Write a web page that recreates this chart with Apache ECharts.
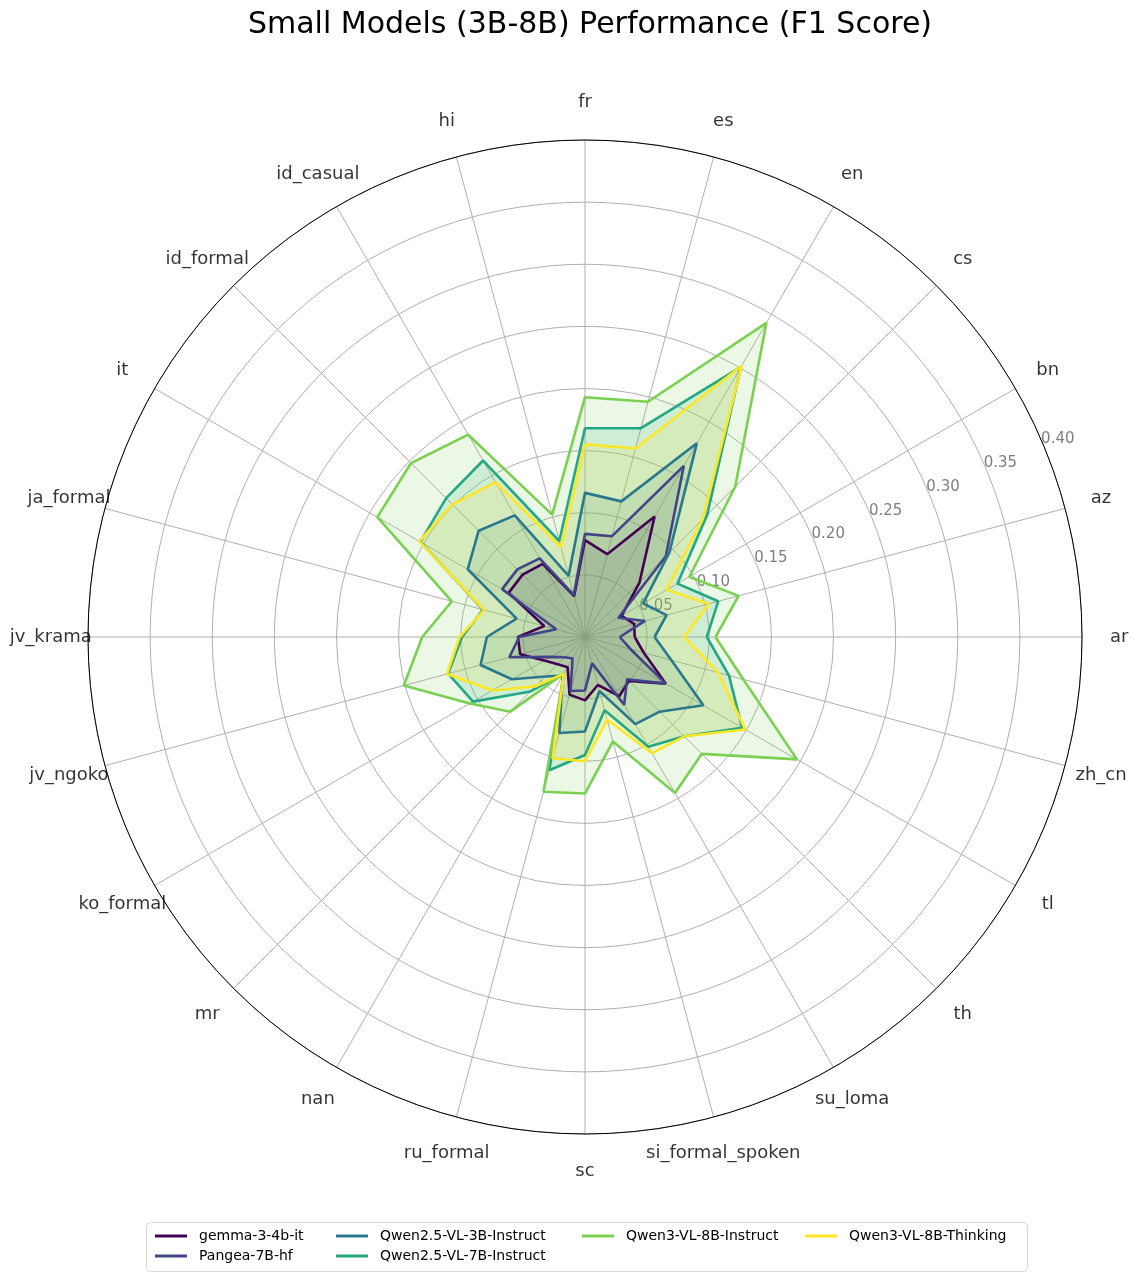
<!DOCTYPE html>
<html>
<head>
<meta charset="utf-8">
<script src="https://cdn.jsdelivr.net/npm/echarts@6/dist/echarts.min.js"></script>
<style>
html, body { margin: 0; padding: 0; background: #fff; }
#chart { width: 1138px; height: 1280px; }
</style>
</head>
<body>
<div id="chart"></div>
<script>
// languages, counter-clockwise from the right (15 degrees apart)
var languages = ['ar', 'az', 'bn', 'cs', 'en', 'es', 'fr', 'hi', 'id_casual', 'id_formal', 'it',
    'ja_formal', 'jv_krama', 'jv_ngoko', 'ko_formal', 'mr', 'nan', 'ru_formal', 'sc',
    'si_formal_spoken', 'su_loma', 'th', 'tl', 'zh_cn'];

var models = ['gemma-3-4b-it', 'Pangea-7B-hf', 'Qwen2.5-VL-3B-Instruct',
    'Qwen2.5-VL-7B-Instruct', 'Qwen3-VL-8B-Instruct', 'Qwen3-VL-8B-Thinking'];

var gemma = [0.040, 0.041, 0.034, 0.062, 0.112, 0.069, 0.078, 0.034, 0.068, 0.071, 0.071, 0.034,
    0.054, 0.054, 0.038, 0.031, 0.028, 0.048, 0.051, 0.040, 0.055, 0.050, 0.075, 0.049];
var pangea = [0.028, 0.050, 0.031, 0.092, 0.159, 0.084, 0.083, 0.035, 0.073, 0.077, 0.077, 0.024,
    0.053, 0.063, 0.032, 0.023, 0.020, 0.045, 0.043, 0.022, 0.063, 0.048, 0.075, 0.038];
var qwen25_3b = [0.056, 0.068, 0.054, 0.096, 0.180, 0.113, 0.116, 0.051, 0.113, 0.121, 0.109, 0.057,
    0.079, 0.087, 0.068, 0.045, 0.036, 0.080, 0.076, 0.045, 0.081, 0.085, 0.110, 0.072];
var qwen25_7b = [0.098, 0.111, 0.086, 0.139, 0.251, 0.174, 0.168, 0.080, 0.164, 0.158, 0.153, 0.085,
    0.099, 0.114, 0.104, 0.062, 0.034, 0.111, 0.095, 0.061, 0.102, 0.113, 0.146, 0.120];
var qwen3_instruct = [0.105, 0.128, 0.097, 0.171, 0.292, 0.196, 0.193, 0.102, 0.188, 0.198, 0.193, 0.111,
    0.131, 0.151, 0.107, 0.085, 0.034, 0.129, 0.126, 0.087, 0.145, 0.133, 0.197, 0.132];
var qwen3_thinking = [0.080, 0.103, 0.076, 0.134, 0.252, 0.157, 0.155, 0.075, 0.144, 0.151, 0.154, 0.084,
    0.101, 0.115, 0.086, 0.056, 0.034, 0.101, 0.100, 0.069, 0.108, 0.113, 0.149, 0.111];

var radiusTicks = [0.05, 0.10, 0.15, 0.20, 0.25, 0.30, 0.35, 0.40];

var seriesValues = [gemma, pangea, qwen25_3b, qwen25_7b, qwen3_instruct, qwen3_thinking];
var colors = ['#440154', '#414487', '#2a788e', '#22a884', '#7ad151', '#fde725'];

var STEP = 360 / languages.length;
var LABEL_R = 0.43;
var FONT = 'DejaVu Sans';

var chart = echarts.init(document.getElementById('chart'));

var series = seriesValues.map(function(vals, k){
    var pts = vals.map(function(v, i){ return [v, i * STEP]; });
    pts.push([vals[0], 360]);
    return {
        name: models[k],
        type: 'line',
        coordinateSystem: 'polar',
        polarIndex: 0,
        data: pts,
        showSymbol: false,
        symbol: 'none',
        silent: true,
        color: colors[k],
        lineStyle: {width: 2.6, color: colors[k]},
        areaStyle: {color: colors[k], opacity: 0.15}
    };
});

// category names, centred just outside the outer circle
series.push({
    type: 'scatter',
    coordinateSystem: 'polar',
    polarIndex: 0,
    silent: true,
    clip: false,
    symbolSize: 1,
    itemStyle: {color: 'rgba(0,0,0,0)'},
    data: languages.map(function(n, i){ return {name: n, value: [LABEL_R, i * STEP]}; }),
    label: {show: true, position: 'inside', formatter: '{b}', fontSize: 18, color: '#000', fontFamily: FONT}
});

function legendCol(names, left){
    return {
        data: names, left: left, top: 1224, orient: 'vertical',
        icon: 'rect', itemWidth: 32, itemHeight: 3, itemGap: 6,
        selectedMode: false,
        textStyle: {fontSize: 14, color: '#000', fontFamily: FONT, padding: [0, 0, 0, 7]}
    };
}

chart.setOption({
    backgroundColor: '#fff',
    animation: false,
    title: {
        text: 'Small Models (3B-8B) Performance (F1 Score)',
        left: 585, textAlign: 'center', top: 5,
        textStyle: {fontSize: 30, fontWeight: 'normal', color: '#000', fontFamily: FONT}
    },
    legend: [
        legendCol([models[0], models[1]], 150),
        legendCol([models[2], models[3]], 331),
        legendCol([models[4]], 577),
        legendCol([models[5]], 800)
    ],
    graphic: [{
        type: 'rect', left: 144, top: 1220,
        shape: {width: 881, height: 49, r: 4},
        style: {fill: 'none', stroke: '#d6d6d6', lineWidth: 1}
    }],
    polar: [
        {center: [585, 637], radius: 497},
        {center: [585, 637], radius: 497}
    ],
    angleAxis: [{
        polarIndex: 0, type: 'value', min: 0, max: 360, interval: STEP,
        startAngle: 0, clockwise: false,
        axisLine: {lineStyle: {color: '#000', width: 1}},
        axisTick: {show: false},
        axisLabel: {show: false},
        splitLine: {show: true, lineStyle: {color: '#b0b0b0', width: 1}}
    }, {
        polarIndex: 1, type: 'value', min: 0, max: 360, startAngle: 22.5, clockwise: false,
        show: false
    }],
    radiusAxis: [{
        polarIndex: 0, type: 'value', min: 0, max: 0.4, interval: 0.05,
        axisLine: {show: false}, axisTick: {show: false}, axisLabel: {show: false},
        splitLine: {show: true, lineStyle: {color: '#b0b0b0', width: 1}}
    }, {
        polarIndex: 1, type: 'value', min: 0, max: 0.4, interval: 0.05,
        axisLine: {show: false}, axisTick: {show: false}, splitLine: {show: false},
        axisLabel: {
            show: true, align: 'left', verticalAlign: 'middle', margin: 8,
            fontSize: 15, color: '#7f7f7f', fontFamily: FONT,
            formatter: function(v){
                var t = radiusTicks.filter(function(x){ return Math.abs(x - v) < 1e-9; });
                return t.length ? t[0].toFixed(2) : '';
            }
        }
    }],
    series: series
});
</script>
</body>
</html>
